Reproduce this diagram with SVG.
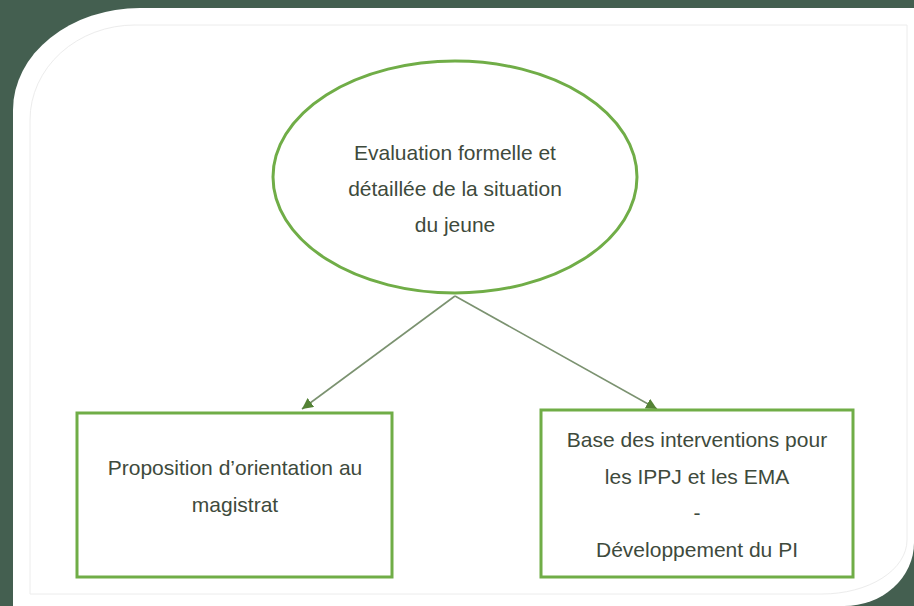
<svg xmlns="http://www.w3.org/2000/svg" width="914" height="606" viewBox="0 0 914 606">
  <style>
    .node-shape { fill: #ffffff; stroke: #70ad47; stroke-width: 3; }
    .label { font-family: "Liberation Sans", Arial, sans-serif; font-size: 21px; fill: #3e4a3c; text-anchor: middle; }
    .conn { stroke: #7b9270; stroke-width: 1.6; fill: none; marker-end: url(#arrow); }
  </style>
  <defs>
    <marker id="arrow" viewBox="0 0 10 10" refX="10" refY="5" markerWidth="11" markerHeight="11" markerUnits="userSpaceOnUse" orient="auto">
      <path d="M0,0 L10,5 L0,10 Z" fill="#548235"/>
    </marker>
  </defs>
  <rect x="0" y="0" width="914" height="606" fill="#445f50"/>
  <path d="M13,110 A127,102 0 0 1 140,8 L914,8 L914,543 A70,63 0 0 1 844,606 L13,606 Z" fill="#ffffff"/>
  <path d="M30,120 A105,95 0 0 1 135,25 L907,25 L907,540 A85,54 0 0 1 822,594 L30,594 Z" fill="none" stroke="#ececec" stroke-width="1"/>

  <g id="connectors">
    <line class="conn" x1="455" y1="296" x2="302" y2="409"/>
    <line class="conn" x1="455" y1="296" x2="657" y2="409"/>
  </g>

  <g id="node-evaluation">
    <ellipse class="node-shape" cx="455" cy="177" rx="182" ry="116" stroke-width="2.5"/>
    <text class="label" x="455" y="160">Evaluation formelle et</text>
    <text class="label" x="455" y="196">détaillée de la situation</text>
    <text class="label" x="455" y="232">du jeune</text>
  </g>

  <g id="node-proposition">
    <rect class="node-shape" x="77" y="413" width="315" height="164"/>
    <text class="label" x="235" y="475">Proposition d’orientation au</text>
    <text class="label" x="235" y="512">magistrat</text>
  </g>

  <g id="node-base">
    <rect class="node-shape" x="541" y="410" width="312" height="167"/>
    <text class="label" x="697" y="447">Base des interventions pour</text>
    <text class="label" x="697" y="484">les IPPJ et les EMA</text>
    <text class="label" x="697" y="520">-</text>
    <text class="label" x="697" y="557">Développement du PI</text>
  </g>
</svg>
